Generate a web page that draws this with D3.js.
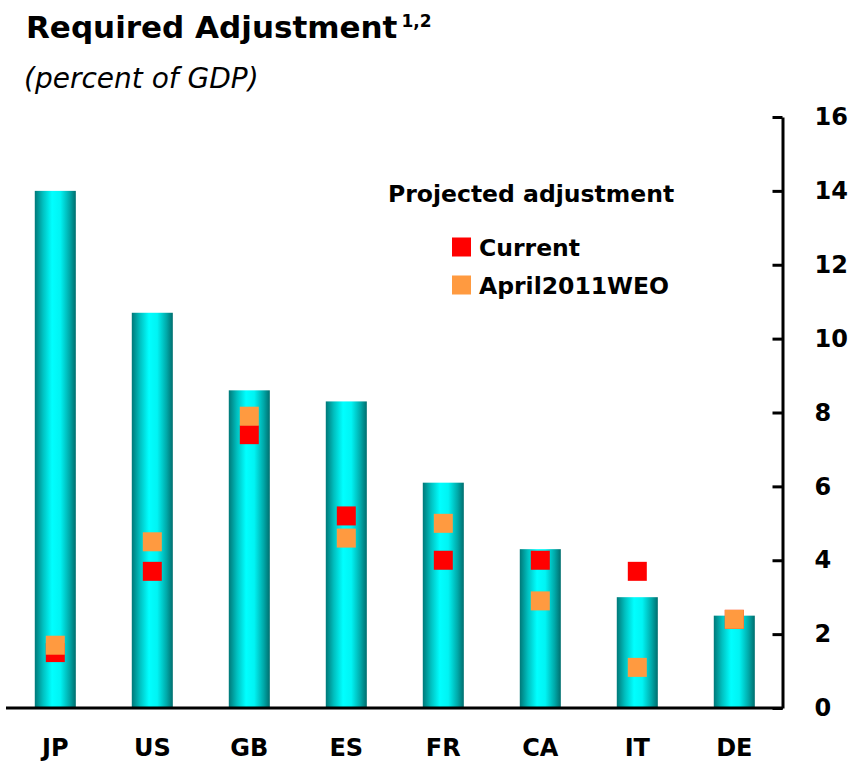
<!DOCTYPE html>
<html><head><meta charset="utf-8">
<script src="https://cdn.jsdelivr.net/npm/d3@7"></script>
<style>body{margin:0;background:#fff}svg{display:block}text{font-family:"DejaVu Sans",sans-serif}</style>
</head><body><svg id="c" width="860" height="762"></svg>
<script>
const categories = ["JP","US","GB","ES","FR","CA","IT","DE"];
const required = [14.0, 10.7, 8.6, 8.3, 6.1, 4.3, 3.0, 2.5];
const current = [1.5, 3.7, 7.4, 5.2, 4.0, 4.0, 3.7, 2.4];
const april2011 = [1.7, 4.5, 7.9, 4.6, 5.0, 2.9, 1.1, 2.4];
const yTicks = [0,2,4,6,8,10,12,14,16];

const svg = d3.select("#c");
const x = d3.scaleBand().domain(categories).range([6.8, 782.8]).padding(0);
const y = d3.scaleLinear().domain([0,16]).range([708,117]);
const barW = x.bandwidth()*0.423;
const mk = 19;

const defs = svg.append("defs");
const g = defs.append("linearGradient").attr("id","cyl").attr("x1","0%").attr("x2","100%").attr("y1","0").attr("y2","0");
[[0,"#007878"],[0.2,"#00c0c0"],[0.42,"#00ffff"],[0.62,"#00f4f4"],[0.85,"#00a8a8"],[1,"#006e6e"]]
  .forEach(([o,c])=>g.append("stop").attr("offset",o).attr("stop-color",c));

svg.append("g").selectAll("rect").data(categories).join("rect")
  .attr("x",d=>x(d)+x.bandwidth()/2-barW/2).attr("width",barW)
  .attr("y",(d,i)=>y(required[i])).attr("height",(d,i)=>y(0)-y(required[i]))
  .attr("fill","url(#cyl)");

svg.append("g").selectAll("rect").data(categories).join("rect")
  .attr("x",d=>x(d)+x.bandwidth()/2-mk/2).attr("width",mk)
  .attr("y",(d,i)=>y(current[i])-mk/2).attr("height",mk).attr("fill","#ff0000");
svg.append("g").selectAll("rect").data(categories).join("rect")
  .attr("x",d=>x(d)+x.bandwidth()/2-mk/2).attr("width",mk)
  .attr("y",(d,i)=>y(april2011[i])-mk/2).attr("height",mk).attr("fill","#ff9a40");

// x axis line
svg.append("line").attr("x1",6).attr("x2",783).attr("y1",y(0)).attr("y2",y(0))
  .attr("stroke","#000").attr("stroke-width",3);

// x labels
svg.append("g").selectAll("text").data(categories).join("text")
  .attr("x",d=>x(d)+x.bandwidth()/2).attr("y",756).attr("text-anchor","middle")
  .attr("font-size",24).attr("font-weight","bold").text(d=>d);

// right axis
const ax = svg.append("g").attr("transform","translate(782.5,0)")
  .call(d3.axisRight(y).tickValues(yTicks).tickSizeInner(-10).tickSizeOuter(0).tickPadding(32).tickFormat(d3.format("d")));
ax.select(".domain").attr("stroke-width",3);
ax.selectAll(".tick line").attr("stroke-width",3);
ax.selectAll("text").attr("font-size",24).attr("font-weight","bold").attr("fill","#000").attr("font-family","DejaVu Sans,sans-serif");

// title
const t = svg.append("text").attr("x",26).attr("y",38).attr("font-size",31).attr("font-weight","bold");
t.append("tspan").text("Required Adjustment");
t.append("tspan").attr("font-size",17).attr("dy",-11).attr("dx",4).text("1,2");
svg.append("text").attr("x",24).attr("y",88).attr("font-size",28).attr("font-style","italic").text("(percent of GDP)");

// legend
svg.append("text").attr("x",388).attr("y",202).attr("font-size",23.5).attr("font-weight","bold").text("Projected adjustment");
const leg = [["Current","#ff0000",247],["April2011WEO","#ff9a40",285]];
leg.forEach(([l,c,cy])=>{
  svg.append("rect").attr("x",452).attr("y",cy-9.5).attr("width",mk).attr("height",mk).attr("fill",c);
  svg.append("text").attr("x",479).attr("y",cy+9).attr("font-size",23.5).attr("font-weight","bold").text(l);
});
</script></body></html>
